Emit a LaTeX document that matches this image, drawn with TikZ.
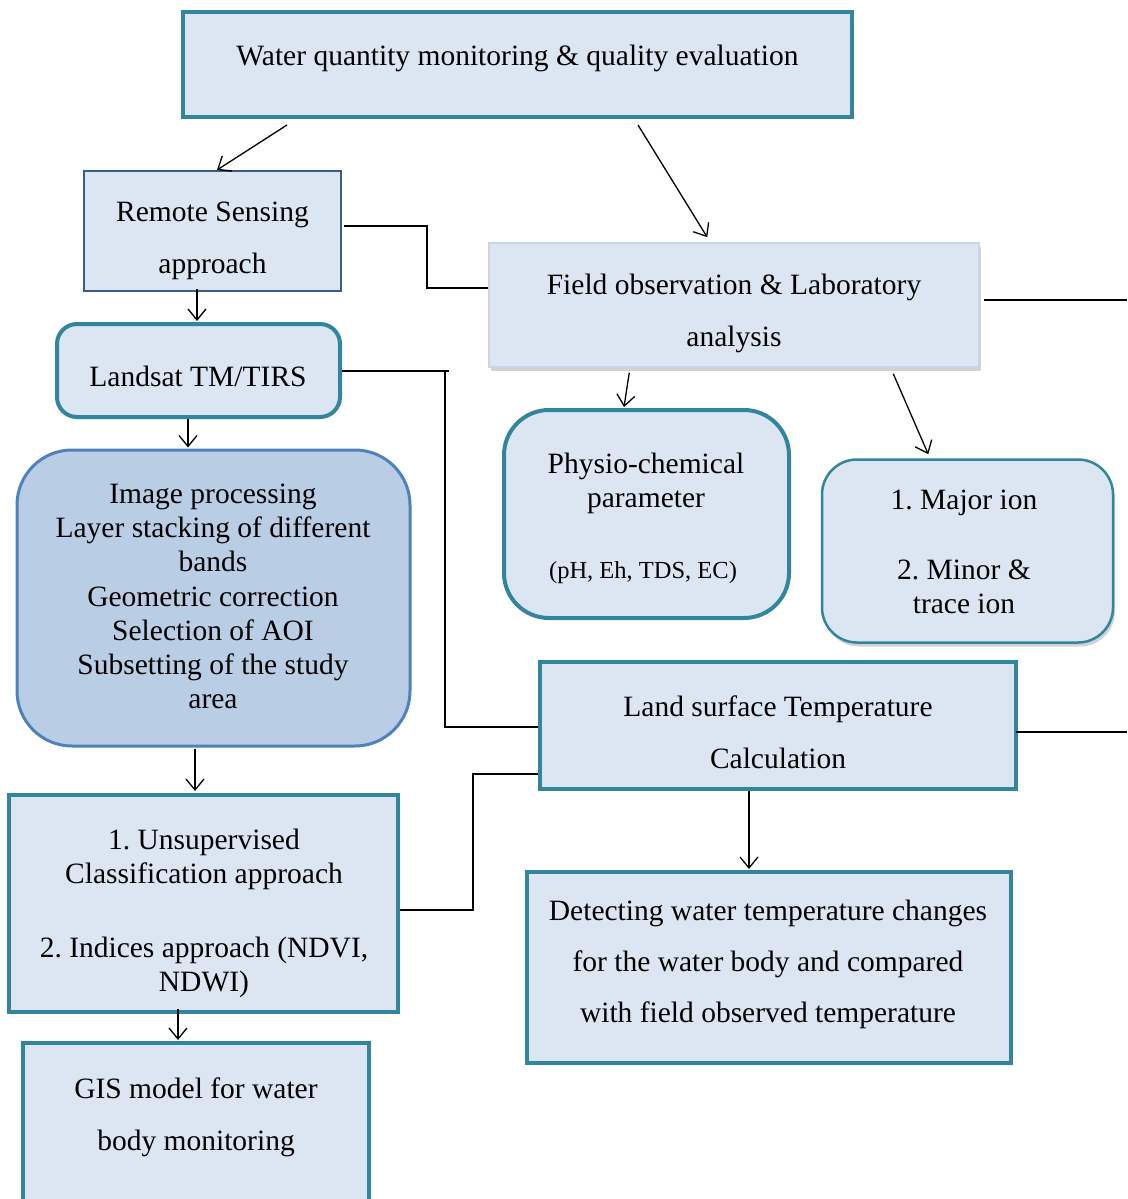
\documentclass[tikz,border=0pt]{standalone}
\usepackage{fontspec}
\setmainfont{Liberation Serif}
\usetikzlibrary{arrows.meta,calc,shadows}
\definecolor{boxfill}{HTML}{DCE6F2}
\definecolor{tealb}{HTML}{31859C}
\definecolor{rsb}{HTML}{385D8A}
\definecolor{imgfill}{HTML}{B9CDE5}
\definecolor{imgb}{HTML}{4F81BD}
\definecolor{fieldb}{HTML}{C6D6EA}
\frenchspacing
\begin{document}
\begin{tikzpicture}[x=1pt,y=-1pt,
  box/.style={rectangle, fill=boxfill, draw=tealb, line width=4pt, inner sep=0pt},
  txt/.style={inner sep=0pt, align=center, font=\fontsize{29.5}{34}\selectfont},
  arr/.style={line width=1.3pt, -{Straight Barb[length=11pt,width=18pt,line width=1.3pt]}},
  conn/.style={line width=2pt},
  shd/.style={drop shadow={opacity=0.35,shadow xshift=2pt,shadow yshift=-4pt}}]
\useasboundingbox (0,0) rectangle (1127,1199);
\clip (0,0) rectangle (1127,1199);
\fill[white] (0,0) rectangle (1127,1199);
% boxes
\node[box, minimum width=669pt, minimum height=105pt] (top) at (517.5,64.5) {};
\node[txt] (toptxt) at (517.5,58) {Water quantity monitoring \& quality evaluation};

\node[box, draw=rsb, line width=2pt, minimum width=257pt, minimum height=120pt] (rs) at (212.5,231) {};
\node[txt, font=\fontsize{29.5}{52}\selectfont] (rstxt) at (212.5,241) {Remote Sensing\\approach};

\node[box, draw=fieldb, line width=1.5pt, shd, minimum width=490pt, minimum height=124pt] (field) at (734,305) {};
\node[txt, font=\fontsize{29.5}{52}\selectfont] (fieldtxt) at (734,313) {Field observation \& Laboratory\\analysis};

\node[box, rounded corners=20pt, minimum width=283pt, minimum height=93pt] (land) at (198.5,370.5) {};
\node[txt] (landtxt) at (198,376) {Landsat TM/TIRS};

\node[box, fill=imgfill, draw=imgb, line width=3pt, rounded corners=55pt, minimum width=393pt, minimum height=296pt] (img) at (213.5,598) {};
\node[txt, font=\fontsize{29.5}{34.2}\selectfont] (imgtxt) at (213,596.5) {Image processing\\Layer stacking of different\\bands\\Geometric correction\\Selection of AOI\\Subsetting of the study\\area};

\node[box, rounded corners=45pt, minimum width=285pt, minimum height=208pt] (phys) at (646.5,514) {};
\node[txt] (phystxt) at (646,483) {Physio-chemical\\parameter};
\node[txt, font=\fontsize{24.5}{30}\selectfont] (physsub) at (643,573) {(pH, Eh, TDS, EC)};

\node[box, line width=2.5pt, rounded corners=35pt, shd, minimum width=291pt, minimum height=183pt] (ion) at (967.5,551) {};
\node[txt] (iontxt) at (964,552) {1. Major ion\\[36pt]2. Minor \&\\trace ion};

\node[box, minimum width=476pt, minimum height=127pt] (lst) at (778,725.5) {};
\node[txt, font=\fontsize{29.5}{51.6}\selectfont] (lsttxt) at (778,732) {Land surface Temperature\\Calculation};

\node[box, minimum width=389pt, minimum height=217pt] (uns) at (203.5,903.5) {};
\node[txt] (unstxt) at (204,913.5) {1. Unsupervised\\Classification approach\\[40pt]2. Indices approach (NDVI,\\NDWI)};

\node[box, minimum width=484pt, minimum height=191pt] (det) at (769,967.5) {};
\node[txt, font=\fontsize{29.5}{51}\selectfont] (dettxt) at (768,964.5) {Detecting water temperature changes\\for the water body and compared\\with field observed temperature};

\node[box, minimum width=346pt, minimum height=172pt] (gis) at (195.5,1129) {};
\node[txt, font=\fontsize{29.5}{52}\selectfont] (gistxt) at (196,1117) {GIS model for water\\body monitoring};

% connectors
\coordinate (fr) at (1127,300);
\coordinate (lr) at (1127,732);
\draw[arr] ($(top.south west)+(106,6)$) -- ($(rs.north)+(4.5,0)$);
\draw[arr] ($(top.south west)+(457,6)$) -- ($(field.north west)+(219,-5)$);
\draw[conn] ($(rs.east)+(2,-5)$) -- ++(83,0) |- ($(field.west)+(0,-17)$);
\draw[arr] ($(rs.south)+(-15.5,-3)$) -- ($(land.north)+(-1.5,-1)$);
\draw[conn] (land.east) -- ++(107,0);
\draw[conn] ($(land.east)+(103,0)$) |- ($(lst.west)+(0,1.5)$);
\draw[arr] ($(land.south)+(-10.5,0)$) -- ($(img.north)+(-25.5,-1)$);
\draw[arr] ($(field.south west)+(141,5)$) -- ($(phys.north)+(-22.5,-1)$);
\draw[arr] ($(field.south west)+(405,6)$) -- ($(ion.north west)+(107.5,-4)$);
\draw[conn] ($(field.east)+(4,-5)$) -- (fr);
\draw[arr] ($(img.south)+(-18.5,1)$) -- ($(uns.north)+(-8.5,-2)$);
\draw[conn] ($(uns.east)+(0,6.5)$) -- ++(73,0) |- ($(lst.west)+(0,48)$);
\draw[conn] ($(lst.east)+(-2,6.5)$) -- (lr);
\draw[arr] ($(lst.south)+(-29,0)$) -- ($(det.north)+(-20,-1)$);
\draw[arr] ($(uns.south)+(-25.5,-5)$) -- ($(gis.north)+(-17.5,-1)$);
\end{tikzpicture}
\end{document}
